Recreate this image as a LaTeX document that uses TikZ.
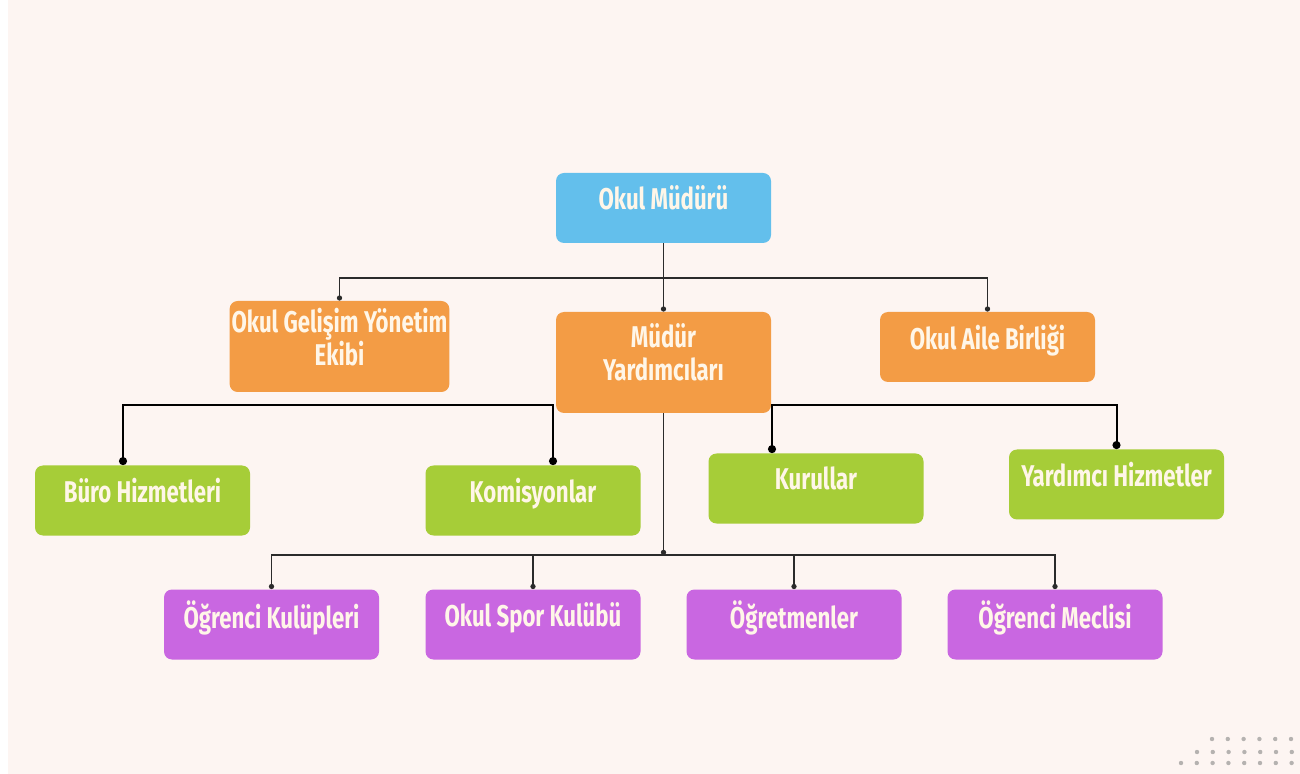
\documentclass[tikz,border=0pt]{standalone}
\usepackage{fontspec}
\setmainfont{Fira Sans}[FakeStretch=0.74]
\usetikzlibrary{arrows.meta,positioning}
\definecolor{zemin}{HTML}{FDF5F2}
\definecolor{mavi}{HTML}{63BFEC}
\definecolor{turuncu}{HTML}{F39C45}
\definecolor{yesil}{HTML}{A6CD38}
\definecolor{mor}{HTML}{C967E1}
\definecolor{yazi}{HTML}{FFF6E8}
\definecolor{nokta}{HTML}{B5B2B0}
\definecolor{cizgi}{HTML}{2B2B2B}

\begin{document}
\begin{tikzpicture}[x=0.5pt,y=-0.5pt,
  kutu/.style={rounded corners=4pt,text=yazi,align=center,inner sep=1pt,
    font=\fontsize{15}{16.5}\selectfont\bfseries,
    minimum width=107.5pt,minimum height=35pt,text depth=10pt},
  bag/.style={draw=cizgi,line width=0.6pt,-{Circle[length=2.6pt]}},
  bagkalin/.style={draw=black,line width=1pt,{Circle[length=4pt]}-{Circle[length=4pt]}}]
% background
\fill[white] (0,0) rectangle (1300,774);
\fill[zemin] (8,0) rectangle (1300,774);
\foreach \y/\xs/\n in {739/1212/6,752/1197/7,763/1181/8}
  \foreach \i in {1,...,\n}
    \fill[nokta] ({\xs+15.8*(\i-1)},\y) circle (1.1pt);
% Level 0
\draw (663.5,208) node[kutu,fill=mavi](k0){Okul Müdürü};
% Level 1
\draw (339.5,346.5) node[kutu,fill=turuncu,minimum width=108.5pt,minimum height=45.5pt](k1_1){Okul Gelişim Yönetim\\Ekibi};
\draw (663.5,362.5) node[kutu,fill=turuncu,minimum height=50.5pt](k1_2){Müdür\\Yardımcıları};
\draw (987.5,347) node[kutu,fill=turuncu](k1_3){Okul Aile Birliği};
% Level 2
\draw (142.5,500.5) node[kutu,fill=yesil](k2_1){Büro Hizmetleri};
\draw (533,500.5) node[kutu,fill=yesil](k2_2){Komisyonlar};
\draw (816,488.5) node[kutu,fill=yesil](k2_3){Kurullar};
\draw (1116.5,484.5) node[kutu,fill=yesil](k2_4){Yardımcı Hizmetler};
% Level 3
\draw (271.5,624.5) node[kutu,fill=mor](k3_1){Öğrenci Kulüpleri};
\draw (533,624.5) node[kutu,fill=mor](k3_2){Okul Spor Kulübü};
\draw (794,624.5) node[kutu,fill=mor](k3_3){Öğretmenler};
\draw (1055,624.5) node[kutu,fill=mor](k3_4){Öğrenci Meclisi};
% connectors
\coordinate (b1) at (663.5,278);
\coordinate (b2a) at (123,405);
\coordinate (b2b) at (553,405);
\coordinate (b2c) at (772,405);
\coordinate (b3) at (663.5,555);
\draw[bag] (k0) -- (k1_2.north);
\draw[bag] (b1) -| (k1_1.north);
\draw[bag] (b1) -| (k1_3.north);
\draw[bagkalin] (b2a |- k2_1.north) -- (b2a) -- (b2b) -- (b2b |- k2_2.north);
\draw[bagkalin] (b2c |- k2_3.north) -- (b2c) -| (k2_4.north);
\draw[bag] (k1_2.south) -- (b3);
\foreach \k in {k3_1,k3_2,k3_3,k3_4}
  \draw[bag] (b3) -| (\k.north);
\end{tikzpicture}
\end{document}
